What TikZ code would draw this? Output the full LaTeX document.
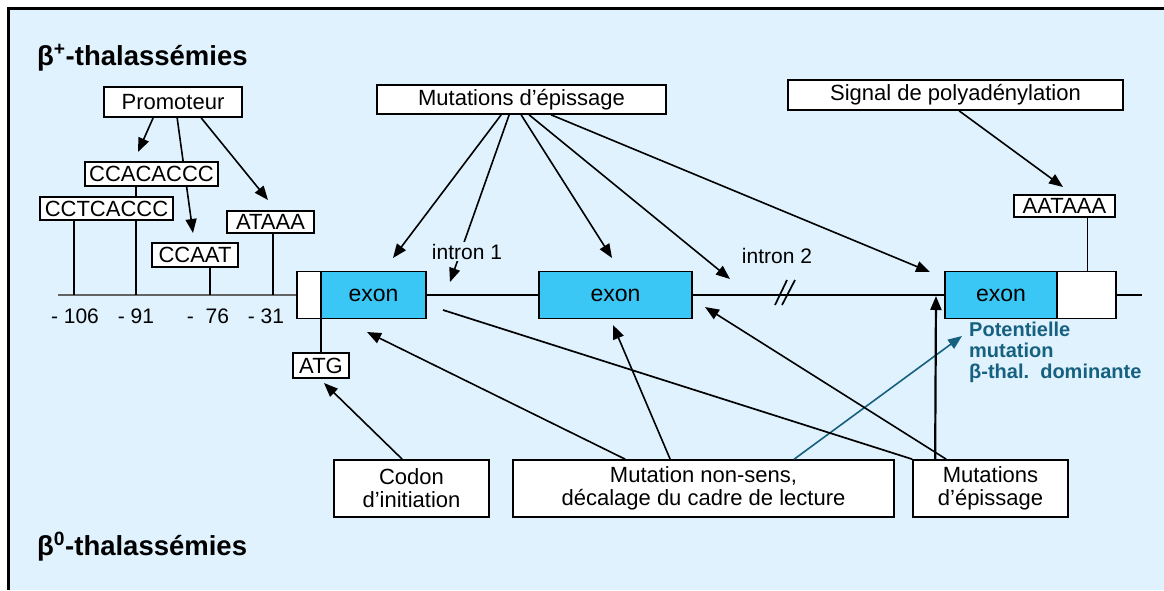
\documentclass[tikz,border=0pt]{standalone}
\usepackage{fontspec}
\setmainfont{Liberation Sans}
\usetikzlibrary{arrows.meta}
\definecolor{bgblue}{RGB}{223,242,253}
\definecolor{exonblue}{RGB}{58,199,245}
\definecolor{tealtxt}{RGB}{22,96,128}
\definecolor{promgrey}{RGB}{100,100,100}
\begin{document}
\begin{tikzpicture}[x=1pt,y=-1pt,
  box/.style={draw=black, line width=1.7pt, fill=white, inner sep=0pt, align=center,
              font=\fontsize{22}{23}\selectfont},
  exonbox/.style={draw=black, line width=1.7pt, fill=exonblue, inner sep=0pt,
              minimum height=47pt, font=\fontsize{23}{24}\selectfont},
  utrbox/.style={draw=black, line width=1.7pt, fill=white, inner sep=0pt, minimum height=47pt},
  arr/.style={line width=1.6pt, -{Triangle[length=14pt,width=11pt]}},
  tealarr/.style={line width=1.6pt, tealtxt, -{Triangle[length=14pt,width=11pt]}},
  thin/.style={line width=1.7pt},
  lbl/.style={inner sep=0pt, font=\fontsize{21}{22}\selectfont},
  title/.style={inner sep=0pt, anchor=base west, font=\fontsize{27.5}{28}\selectfont\bfseries},
  pot/.style={inner sep=0pt, anchor=base west, text=tealtxt, font=\fontsize{20}{21}\selectfont\bfseries}
]
\useasboundingbox (0,0) rectangle (1164,590);
\fill[white] (0,0) rectangle (1164,590);
\fill[bgblue] (9,8) rectangle (1164,590);
\draw[line width=3pt] (8.5,590) -- (8.5,8) -- (1164,8);

% titles
\node[title] (tplus) at (37,65) {β\textsuperscript{+}-thalassémies};
\node[title] (tzero) at (37,555) {β\textsuperscript{0}-thalassémies};

% gene structure
\node[utrbox, minimum width=24pt] (e1w) at (309,295) {};
\node[exonbox, minimum width=105pt] (e1) at (373.5,295) {exon};
\node[exonbox, minimum width=153pt] (e2) at (615.5,295) {exon};
\node[exonbox, minimum width=112pt] (e3) at (1001,295) {exon};
\node[utrbox, minimum width=59pt] (e3w) at (1086.5,295) {};

\coordinate (pstart) at (58,295);
\coordinate (gend) at (1142,295);
\draw[thin, promgrey] (pstart) -- (e1w.west);
\draw[thin] (e1.east) -- (e2.west);
\draw[thin] (e2.east) -- (e3.west);
\draw[thin] (e3w.east) -- (gend);
\coordinate (brk) at (787,293);
\draw[thin] ([xshift=-12pt,yshift=-12pt]brk) -- ([xshift=0pt,yshift=13pt]brk);
\draw[thin] ([xshift=-5pt,yshift=-12pt]brk) -- ([xshift=8pt,yshift=13pt]brk);

% promoter ticks
\coordinate (p106) at (74,295);
\coordinate (p91) at (136,295);
\coordinate (p76) at (210,295);
\coordinate (p31) at (273,295);

\node[box, minimum width=138pt, minimum height=30pt] (prom) at (173,102) {Promoteur};
\coordinate (t1) at (138,152);
\coordinate (t2) at (193,233);
\coordinate (t3) at (268,200);
\draw[arr] ([xshift=50pt]prom.south west) -- (t1);
\draw[arr] ([xshift=74pt]prom.south west) -- (t2);
\draw[arr] ([xshift=98pt]prom.south west) -- (t3);

\node[box, minimum width=133pt, minimum height=24pt] (ccac) at (151.5,174) {CCACACCC};
\draw[thin] (p91) -- (p91 |- ccac.south);
\node[box, minimum width=133pt, minimum height=23pt] (cctc) at (106.5,208.5) {CCTCACCC};
\draw[thin] (p106) -- (p106 |- cctc.south);
\node[box, minimum width=86pt, minimum height=24pt] (ccaat) at (195,255) {CCAAT};
\draw[thin] (p76) -- (p76 |- ccaat.south);
\node[box, minimum width=87pt, minimum height=22pt] (ataaa) at (270.5,222) {ATAAA};
\draw[thin] (p31) -- (p31 |- ataaa.south);

\node[lbl, anchor=base] (n106) at (75,323) {- 106};
\node[lbl, anchor=base] (n91) at (136,323) {- 91};
\node[lbl, anchor=base] (n76) at (208,323) {-\ \ 76};
\node[lbl, anchor=base] (n31) at (266,323) {- 31};

% ATG
\node[box, minimum width=56pt, minimum height=25pt] (atg) at (321,365.5) {ATG};
\draw[thin] (atg.north) -- (atg.north |- e1.south);

% splice mutations (top)
\node[box, minimum width=289pt, minimum height=29pt] (mtop) at (521.5,99.5) {Mutations d’épissage};
\coordinate (m1) at (393,258);
\coordinate (m2) at (450,282);
\coordinate (m3) at (612,258);
\coordinate (m4) at (730,279);
\coordinate (m5) at (930,272);
\draw[arr] ([xshift=125pt]mtop.south west) -- (m1);
\draw[arr] ([xshift=133pt]mtop.south west) -- (m2);
\draw[arr] ([xshift=145pt]mtop.south west) -- (m3);
\draw[arr] ([xshift=153pt]mtop.south west) -- (m4);
\draw[arr] ([xshift=175pt]mtop.south west) -- (m5);

\node[lbl, anchor=base, fill=bgblue, inner xsep=1pt, inner ysep=2pt] (in1) at (467,259) {intron 1};
\node[lbl, anchor=base] (in2) at (777,263) {intron 2};

% polyadenylation
\node[box, minimum width=335pt, minimum height=30pt] (sig) at (955.5,95) {Signal de polyadénylation};
\node[box, minimum width=101pt, minimum height=22pt] (aataaa) at (1064.5,206) {AATAAA};
\coordinate (s1) at (1063,187);
\draw[arr] ([xshift=172pt]sig.south west) -- (s1);
\draw[thin] ([xshift=23pt]aataaa.south) -- ([xshift=23pt]aataaa.south |- e3w.north);

% bottom boxes
\node[box, minimum width=155pt, minimum height=57pt] (codon) at (411.5,488.5) {Codon\\d’initiation};
\node[box, minimum width=381pt, minimum height=57pt] (nons) at (703.5,488.5) {Mutation non-sens,\\décalage du cadre de lecture};
\node[box, minimum width=155pt, minimum height=57pt] (mbot) at (990.5,488.5) {Mutations\\d’épissage};

\coordinate (c1) at (324,383);
\draw[arr] ([xshift=69pt]codon.north west) -- (c1);

\coordinate (n1) at (367,332);
\coordinate (n2) at (613,325);
\coordinate (n3) at (962,336);
\draw[arr] ([xshift=113pt]nons.north west) -- (n1);
\draw[arr] ([xshift=158pt]nons.north west) -- (n2);
\draw[tealarr] ([xshift=282pt]nons.north west) -- (n3);

\coordinate (bx) at (443,310);
\coordinate (b2) at (705,307);
\coordinate (b3) at (936,296);
\draw[thin] (mbot.north west) -- (bx);
\draw[arr] ([xshift=34pt]mbot.north west) -- (b2);
\draw[arr, line width=2.2pt] ([xshift=23pt]mbot.north west) -- (b3);

% dominant note
\node[pot] (pot1) at (969,336) {Potentielle};
\node[pot] (pot2) at (969,357) {mutation};
\node[pot] (pot3) at (969,378) {β-thal.\ \ dominante};
\end{tikzpicture}
\end{document}
